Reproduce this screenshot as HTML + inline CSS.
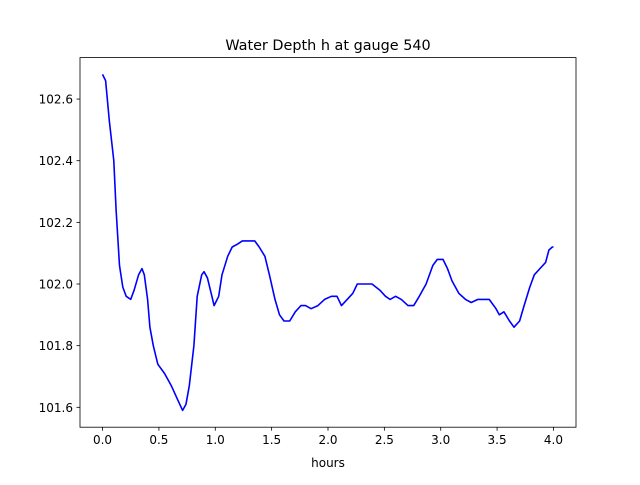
<!DOCTYPE html>
<html><head><meta charset="utf-8"><style>
body{margin:0;background:#fff;font-family:"Liberation Sans","DejaVu Sans",sans-serif;}
svg text{font-family:"DejaVu Sans","Liberation Sans",sans-serif;font-size:12px;fill:#000;}
</style></head><body>
<svg id="chart" width="640" height="480">
<rect width="640" height="480" fill="#fff"/>
<text x="328" y="50" text-anchor="middle" style="font-size:14.4px">Water Depth h at gauge 540</text>
<text x="328" y="467" text-anchor="middle">hours</text>
<g id="axes"></g>
</svg>
<script>
const times=[0,0.027,0.06,0.1,0.12,0.15,0.18,0.21,0.25,0.28,0.32,0.35,0.37,0.4,0.42,0.45,0.49,0.55,0.61,0.66,0.71,0.74,0.77,0.81,0.84,0.88,0.9,0.93,0.97,0.99,1.03,1.06,1.11,1.15,1.2,1.24,1.29,1.35,1.39,1.44,1.48,1.53,1.57,1.61,1.66,1.71,1.76,1.8,1.85,1.91,1.97,2.03,2.08,2.12,2.17,2.22,2.26,2.32,2.39,2.46,2.51,2.55,2.6,2.65,2.71,2.76,2.81,2.87,2.93,2.97,3.02,3.06,3.1,3.16,3.22,3.27,3.33,3.38,3.43,3.49,3.52,3.56,3.61,3.65,3.7,3.74,3.79,3.83,3.88,3.93,3.96,3.99,4.0];
const depths=[102.68,102.66,102.53,102.40,102.24,102.06,101.99,101.96,101.95,101.98,102.03,102.05,102.03,101.95,101.86,101.80,101.74,101.71,101.67,101.63,101.59,101.61,101.67,101.80,101.96,102.03,102.04,102.02,101.96,101.93,101.96,102.03,102.09,102.12,102.13,102.14,102.14,102.14,102.12,102.09,102.03,101.95,101.90,101.88,101.88,101.91,101.93,101.93,101.92,101.93,101.95,101.96,101.96,101.93,101.95,101.97,102.0,102.0,102.0,101.98,101.96,101.95,101.96,101.95,101.93,101.93,101.96,102.0,102.06,102.08,102.08,102.05,102.01,101.97,101.95,101.94,101.95,101.95,101.95,101.92,101.90,101.91,101.88,101.86,101.88,101.93,101.99,102.03,102.05,102.07,102.11,102.12,102.12];
const xTicks=[0,0.5,1.0,1.5,2.0,2.5,3.0,3.5,4.0];
const xTickLabels=["0.0","0.5","1.0","1.5","2.0","2.5","3.0","3.5","4.0"];
const yTicks=[101.6,101.8,102.0,102.2,102.4,102.6];
const yTickLabels=["101.6","101.8","102.0","102.2","102.4","102.6"];
const L=80,R=576,T=57.6,B=427.2;
const tmin=Math.min(...times),tmax=Math.max(...times),dmin=Math.min(...depths),dmax=Math.max(...depths);
const x0=tmin-(tmax-tmin)*0.05,x1=tmax+(tmax-tmin)*0.05;
const y0=dmin-(dmax-dmin)*0.05,y1=dmax+(dmax-dmin)*0.05;
const sx=v=>L+(v-x0)/(x1-x0)*(R-L);
const sy=v=>B-(v-y0)/(y1-y0)*(B-T);
const g=document.getElementById('axes');
const NS='http://www.w3.org/2000/svg';
function mk(tag,attrs){const e=document.createElementNS(NS,tag);for(const k in attrs)e.setAttribute(k,attrs[k]);g.appendChild(e);return e;}
const pts=times.map((t,i)=>sx(t).toFixed(1)+','+sy(depths[i]).toFixed(1)).join(' ');
const line=mk('polyline',{points:pts,fill:'none',stroke:'#0000ff','stroke-width':1.6,'stroke-linejoin':'round'});


const frame=mk('rect',{x:L,y:T,width:R-L,height:B-T,fill:'none',stroke:'#000','stroke-width':0.8});


xTicks.forEach((v,i)=>{
  const tk=mk('line',{x1:sx(v),x2:sx(v),y1:B,y2:B+3.5,stroke:'#000','stroke-width':0.8});
  
  
  const tx=mk('text',{x:sx(v),y:B+17,'text-anchor':'middle'});tx.textContent=xTickLabels[i];
  
  
});
yTicks.forEach((v,i)=>{
  const tk=mk('line',{x1:L-3.5,x2:L,y1:sy(v),y2:sy(v),stroke:'#000','stroke-width':0.8});
  
  
  const tx=mk('text',{x:L-7,y:sy(v)+4.5,'text-anchor':'end'});tx.textContent=yTickLabels[i];
  
  
});
</script>
</body></html>
